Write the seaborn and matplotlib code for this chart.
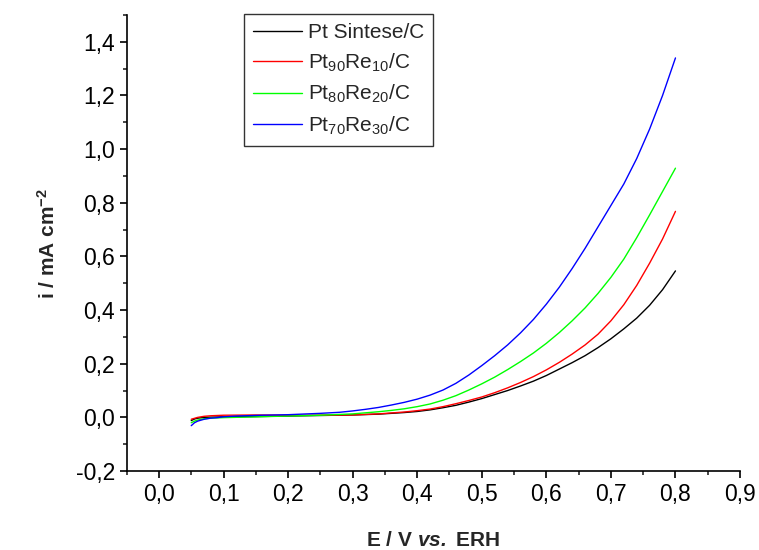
import numpy as np
import pandas as pd
import matplotlib
matplotlib.use('Agg')
import matplotlib.pyplot as plt
from matplotlib.ticker import MultipleLocator, FuncFormatter
import seaborn as sns

# potentials (V vs. ERH) and currents (mA cm-2)
e_pt = [0.05, 0.055, 0.06, 0.07, 0.10, 0.15, 0.20, 0.25, 0.30, 0.34, 0.38, 0.40, 0.42, 0.44,
        0.46, 0.48, 0.50, 0.52, 0.54, 0.56, 0.58, 0.60, 0.62, 0.64, 0.66, 0.68, 0.70, 0.72,
        0.74, 0.76, 0.78, 0.80]
i_pt = [-0.012, -0.006, -0.003, 0.0, 0.002, 0.003, 0.005, 0.007, 0.009, 0.012, 0.018, 0.022, 0.028, 0.036,
        0.045, 0.057, 0.070, 0.085, 0.100, 0.117, 0.135, 0.156, 0.180, 0.204, 0.230, 0.260, 0.293, 0.330,
        0.370, 0.418, 0.476, 0.546]

e_re10 = [0.05, 0.06, 0.07, 0.08, 0.10, 0.15, 0.20, 0.25, 0.30, 0.34, 0.38, 0.40, 0.42, 0.44,
          0.46, 0.48, 0.50, 0.52, 0.54, 0.56, 0.58, 0.60, 0.62, 0.64, 0.66, 0.68, 0.70, 0.72,
          0.74, 0.76, 0.78, 0.80]
i_re10 = [-0.007, 0.0, 0.004, 0.006, 0.008, 0.009, 0.008, 0.008, 0.009, 0.013, 0.020, 0.025, 0.031, 0.040,
          0.051, 0.063, 0.076, 0.092, 0.110, 0.130, 0.152, 0.177, 0.205, 0.236, 0.270, 0.310, 0.360, 0.420,
          0.492, 0.575, 0.665, 0.768]

e_re20 = [0.05, 0.055, 0.06, 0.07, 0.08, 0.10, 0.15, 0.20, 0.25, 0.30, 0.32, 0.34, 0.36, 0.38, 0.40,
          0.42, 0.44, 0.46, 0.48, 0.50, 0.52, 0.54, 0.56, 0.58, 0.60, 0.62, 0.64, 0.66, 0.68, 0.70,
          0.72, 0.74, 0.76, 0.78, 0.80]
i_re20 = [-0.020, -0.014, -0.010, -0.005, -0.003, -0.001, 0.002, 0.005, 0.008, 0.013, 0.017, 0.021, 0.026, 0.032, 0.040,
          0.050, 0.064, 0.081, 0.102, 0.125, 0.150, 0.178, 0.208, 0.240, 0.276, 0.316, 0.360, 0.408, 0.462, 0.522,
          0.590, 0.670, 0.755, 0.842, 0.929]

e_re30 = [0.05, 0.055, 0.06, 0.07, 0.08, 0.09, 0.10, 0.12, 0.16, 0.20, 0.25, 0.28, 0.30, 0.32, 0.34,
          0.36, 0.38, 0.40, 0.42, 0.44, 0.46, 0.48, 0.50, 0.52, 0.54, 0.56, 0.58, 0.60, 0.62, 0.64,
          0.66, 0.68, 0.70, 0.72, 0.74, 0.76, 0.78, 0.80]
i_re30 = [-0.031, -0.020, -0.014, -0.007, -0.003, -0.001, 0.002, 0.005, 0.008, 0.010, 0.015, 0.019, 0.024, 0.030, 0.037,
          0.046, 0.056, 0.068, 0.083, 0.102, 0.127, 0.158, 0.193, 0.230, 0.270, 0.315, 0.365, 0.422, 0.485, 0.555,
          0.630, 0.710, 0.790, 0.870, 0.965, 1.075, 1.200, 1.340]

labels = [r'Pt Sintese/C',
          r'Pt$_{\mathregular{90}}$Re$_{\mathregular{10}}$/C',
          r'Pt$_{\mathregular{80}}$Re$_{\mathregular{20}}$/C',
          r'Pt$_{\mathregular{70}}$Re$_{\mathregular{30}}$/C']
colors = ['#000000', '#ff0000', '#00ff00', '#0000ff']

frames = []
for lab, e, i in zip(labels, [e_pt, e_re10, e_re20, e_re30], [i_pt, i_re10, i_re20, i_re30]):
    frames.append(pd.DataFrame({'E': e, 'i': i, 'amostra': lab}))
df = pd.concat(frames, ignore_index=True)

sns.set_style('ticks')
plt.rcParams['font.family'] = ['Liberation Sans', 'DejaVu Sans']
plt.rcParams['mathtext.fontset'] = 'custom'
plt.rcParams['mathtext.rm'] = 'Liberation Sans'
plt.rcParams['mathtext.it'] = 'Liberation Sans:italic'
plt.rcParams['mathtext.bf'] = 'Liberation Sans:bold'
plt.rcParams['mathtext.bfit'] = 'Liberation Sans:italic:bold'

fig = plt.figure(figsize=(7.59, 5.5), dpi=100)
ax = fig.add_axes([0.1669, 0.1436, 0.9750 - 0.1669, 0.9727 - 0.1436])

sns.lineplot(data=df, x='E', y='i', hue='amostra', palette=dict(zip(labels, colors)),
             estimator=None, sort=False, linewidth=1.0, ax=ax)

ax.set_xlim(-0.05, 0.9)
ax.set_ylim(-0.2, 1.5)
ax.xaxis.set_major_locator(MultipleLocator(0.1))
ax.xaxis.set_minor_locator(MultipleLocator(0.05))
ax.yaxis.set_major_locator(MultipleLocator(0.2))
ax.yaxis.set_minor_locator(MultipleLocator(0.1))
comma = FuncFormatter(lambda v, p: f'{v:.1f}'.replace('.', ',').replace('-0,0', '0,0'))
ax.xaxis.set_major_formatter(comma)
ax.yaxis.set_major_formatter(comma)
ax.set_xticks([t / 10 for t in range(0, 10)])

sns.despine(ax=ax)
for s in ['left', 'bottom']:
    ax.spines[s].set_linewidth(1.2)
    ax.spines[s].set_color('black')
ax.tick_params(which='major', direction='out', length=5, width=1.2, labelsize=16.5, colors='black')
ax.tick_params(which='minor', direction='out', length=3, width=1.2)

ax.set_xlabel(r'E / V $\mathbfit{vs.}$ ERH', fontsize=15, fontweight='bold', labelpad=18)
ax.set_ylabel(r'i / mA cm$^{\mathbf{-2}}$', fontsize=15, fontweight='bold', labelpad=12)

leg = ax.legend(loc='upper left', bbox_to_anchor=(0.3215, 0.9745), bbox_transform=fig.transFigure,
                fontsize=15, frameon=True, fancybox=False, edgecolor='black',
                handlelength=2.35, handletextpad=0.3, labelspacing=0.45, borderpad=0.43,
                borderaxespad=0, title=None)
leg.get_frame().set_linewidth(1.0)

fig.savefig('out.png', dpi=100)
